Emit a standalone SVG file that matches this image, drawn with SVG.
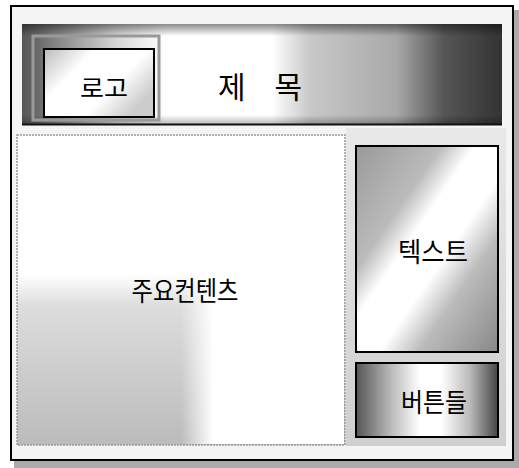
<svg xmlns="http://www.w3.org/2000/svg" width="519" height="468" viewBox="0 0 519 468">
<defs>
<linearGradient id="hdr" x1="0" y1="0" x2="1" y2="0">
<stop offset="0" stop-color="#555"/>
<stop offset="0.08" stop-color="#8a8a8a"/>
<stop offset="0.2" stop-color="#d8d8d8"/>
<stop offset="0.3" stop-color="#fff"/>
<stop offset="0.52" stop-color="#fff"/>
<stop offset="0.6" stop-color="#c8c8c8"/>
<stop offset="0.78" stop-color="#a8a8a8"/>
<stop offset="0.88" stop-color="#555"/>
<stop offset="1" stop-color="#333"/>
</linearGradient>
<linearGradient id="hdrv" x1="0" y1="0" x2="0" y2="1">
<stop offset="0" stop-color="#000" stop-opacity="0.45"/>
<stop offset="0.12" stop-color="#000" stop-opacity="0"/>
<stop offset="0.9" stop-color="#000" stop-opacity="0"/>
<stop offset="1" stop-color="#000" stop-opacity="0.3"/>
</linearGradient>
<linearGradient id="logo" x1="0" y1="0" x2="1" y2="0.6">
<stop offset="0" stop-color="#bbb"/>
<stop offset="0.35" stop-color="#fff"/>
<stop offset="0.7" stop-color="#fff"/>
<stop offset="1" stop-color="#ccc"/>
</linearGradient>
<linearGradient id="main" x1="0" y1="0" x2="0" y2="1">
<stop offset="0" stop-color="#fff"/>
<stop offset="0.45" stop-color="#fff"/>
<stop offset="0.55" stop-color="#ddd"/>
<stop offset="1" stop-color="#bbb"/>
</linearGradient>
<linearGradient id="mainh" x1="0" y1="0" x2="1" y2="0">
<stop offset="0" stop-color="#fff" stop-opacity="0"/>
<stop offset="0.5" stop-color="#fff" stop-opacity="0"/>
<stop offset="0.6" stop-color="#fff" stop-opacity="1"/>
<stop offset="1" stop-color="#fff" stop-opacity="1"/>
</linearGradient>
<linearGradient id="txt" x1="0" y1="0" x2="1" y2="1">
<stop offset="0" stop-color="#999"/>
<stop offset="0.3" stop-color="#bbb"/>
<stop offset="0.42" stop-color="#fff"/>
<stop offset="0.58" stop-color="#fff"/>
<stop offset="0.72" stop-color="#bbb"/>
<stop offset="1" stop-color="#888"/>
</linearGradient>
<linearGradient id="btn" x1="0" y1="0" x2="1" y2="0">
<stop offset="0" stop-color="#555"/>
<stop offset="0.25" stop-color="#bbb"/>
<stop offset="0.45" stop-color="#fff"/>
<stop offset="0.6" stop-color="#fff"/>
<stop offset="0.8" stop-color="#bbb"/>
<stop offset="1" stop-color="#444"/>
</linearGradient>
<linearGradient id="side" x1="0" y1="0" x2="0" y2="1">
<stop offset="0" stop-color="#e8e8e8"/>
<stop offset="1" stop-color="#cfcfcf"/>
</linearGradient>
</defs>
<style>
.lbl{font-family:"Noto Sans CJK KR","Noto Sans",sans-serif;fill:#000;text-anchor:middle}
.box{stroke:#000;stroke-width:2}
</style>
<rect width="519" height="468" fill="#fff"/>
<!-- shadow -->
<rect x="14" y="461" width="505" height="7" fill="#aaa"/>
<rect x="514" y="10" width="5" height="458" fill="#aaa"/>
<g id="frame">
<rect x="11" y="6" width="502" height="454" fill="#f4f4f4" stroke="#000" stroke-width="2"/>
<rect x="346" y="128" width="160" height="318" fill="url(#side)"/>
</g>
<g id="header">
<rect x="22" y="24" width="480" height="101" fill="url(#hdr)"/>
<rect x="22" y="24" width="480" height="101" fill="url(#hdrv)"/>
<rect x="33" y="36" width="126" height="84" fill="none" stroke="#999" stroke-width="3"/>
<line x1="22" y1="124.5" x2="502" y2="124.5" stroke="#111" stroke-width="2"/>
<text class="lbl" x="260" y="98" font-size="30" textLength="84" lengthAdjust="spacing">제 목</text>
</g>
<g id="logo">
<rect x="44" y="49" width="110" height="68" class="box" fill="url(#logo)"/>
<text class="lbl" x="104" y="97" font-size="24" textLength="48" lengthAdjust="spacingAndGlyphs">로고</text>
</g>
<g id="main-content">
<rect x="17" y="135" width="328" height="310" fill="url(#main)" stroke="#999" stroke-width="1.5" stroke-dasharray="2 1"/>
<rect x="18" y="136" width="326" height="308" fill="url(#mainh)"/>
<text class="lbl" x="185" y="301" font-size="27" textLength="107" lengthAdjust="spacingAndGlyphs">주요컨텐츠</text>
</g>
<g id="text-box">
<rect x="356" y="146" width="142" height="206" class="box" fill="url(#txt)"/>
<text class="lbl" x="433" y="262" font-size="27" textLength="70" lengthAdjust="spacingAndGlyphs">텍스트</text>
</g>
<g id="buttons">
<rect x="356" y="363" width="142" height="74" class="box" fill="url(#btn)"/>
<text class="lbl" x="434" y="412" font-size="26" textLength="66" lengthAdjust="spacingAndGlyphs">버튼들</text>
</g>
<g id="connectors"/>
</svg>
